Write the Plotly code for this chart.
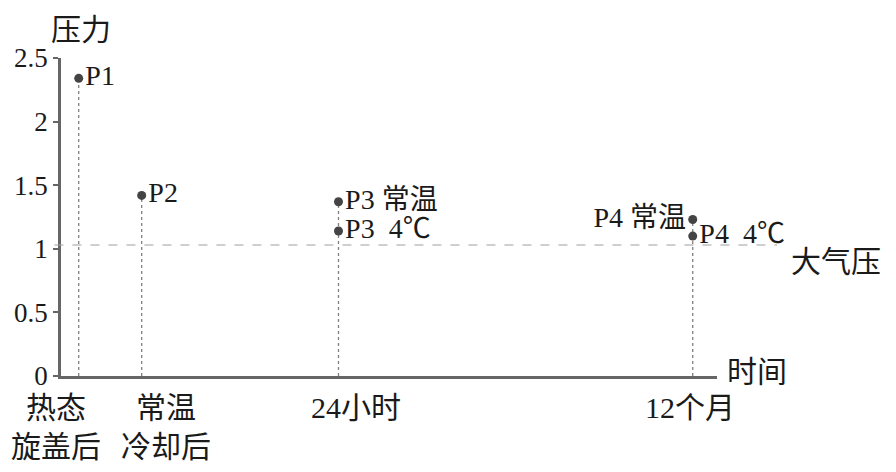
import plotly.graph_objects as go

# ---- data ----
categories = ["热态<br>旋盖后", "常温<br>冷却后", "24小时", "12个月"]
x_pos = [0.27, 1.23, 4.23, 9.63]          # position of each stage on the time axis
point_names = ["P1", "P2", "P3 常温", "P3  4℃", "P4 常温", "P4  4℃"]
point_stage = [0, 1, 2, 2, 3, 3]
point_values = [2.34, 1.42, 1.37, 1.14, 1.23, 1.10]
atm_pressure = 1.03
y_ticks = [0, 0.5, 1, 1.5, 2, 2.5]
y_ticktext = ["0", "0.5", "1", "1.5", "2", "2.5"]

LATIN = "Liberation Serif, Times New Roman, Noto Sans CJK SC"
TXT = "#1a1a1a"
AXC = "#666666"

fig = go.Figure()

# dotted drop lines from highest point of each stage to the axis
for i, xp in enumerate(x_pos):
    vals = [v for v, s in zip(point_values, point_stage) if s == i]
    fig.add_trace(go.Scatter(x=[xp, xp], y=[0, max(vals)], mode="lines",
                             line=dict(color="#808080", width=1.3, dash="dot"),
                             hoverinfo="skip", showlegend=False))

# points with labels
positions = ["middle right", "middle right", "middle right", "middle right", "middle left", "middle right"]
fig.add_trace(go.Scatter(
    x=[x_pos[s] for s in point_stage], y=point_values, mode="markers+text",
    text=point_names, textposition=positions,
    textfont=dict(family=LATIN, size=28, color=TXT),
    marker=dict(color="#444444", size=9),
    cliponaxis=False, showlegend=False))

# atmospheric pressure dashed line
fig.add_shape(type="line", xref="paper", yref="y", x0=-0.01, x1=1.0915,
              y0=atm_pressure, y1=atm_pressure,
              line=dict(color="#a0a0a0", width=1.2, dash="dash"))

# category labels under the axis
label_shift = [-23, 24, 18, -3]
for xp, lab, sh in zip(x_pos, categories, label_shift):
    fig.add_annotation(x=xp, y=0, xref="x", yref="y", text=lab, showarrow=False,
                       xanchor="center", yanchor="top", yshift=-13, xshift=sh,
                       font=dict(family=LATIN, size=30, color=TXT))

fig.add_annotation(xref="paper", yref="paper", x=0, y=1, xshift=20, yshift=29,
                   text="压力", showarrow=False, xanchor="center", yanchor="middle",
                   font=dict(family=LATIN, size=30, color=TXT))
fig.add_annotation(xref="paper", yref="y", x=1, y=0, xshift=40, yshift=5,
                   text="时间", showarrow=False, xanchor="center", yanchor="middle",
                   font=dict(family=LATIN, size=30, color=TXT))
fig.add_annotation(xref="paper", yref="y", x=1, y=atm_pressure, xshift=119, yshift=-17,
                   text="大气压", showarrow=False, xanchor="center", yanchor="middle",
                   font=dict(family=LATIN, size=30, color=TXT))

fig.update_xaxes(range=[0, 10], showline=True, linecolor=AXC, linewidth=2.5,
                 showgrid=False, zeroline=False, showticklabels=False, ticks="",
                 automargin=False)
fig.update_yaxes(range=[0, 2.5], showline=True, linecolor=AXC, linewidth=2.5,
                 showgrid=False, zeroline=False, tickvals=y_ticks, ticktext=y_ticktext,
                 ticks="outside", ticklen=5, tickwidth=1.5, tickcolor=AXC,
                 tickfont=dict(family=LATIN, size=27, color=TXT), automargin=False)

# page body has an 8px margin, so the figure is 8px smaller and margins shifted
fig.update_layout(width=888, height=464, margin=dict(l=53, r=179, t=50, b=96),
                  paper_bgcolor="white", plot_bgcolor="white", showlegend=False)

fig.write_html("out.html")
